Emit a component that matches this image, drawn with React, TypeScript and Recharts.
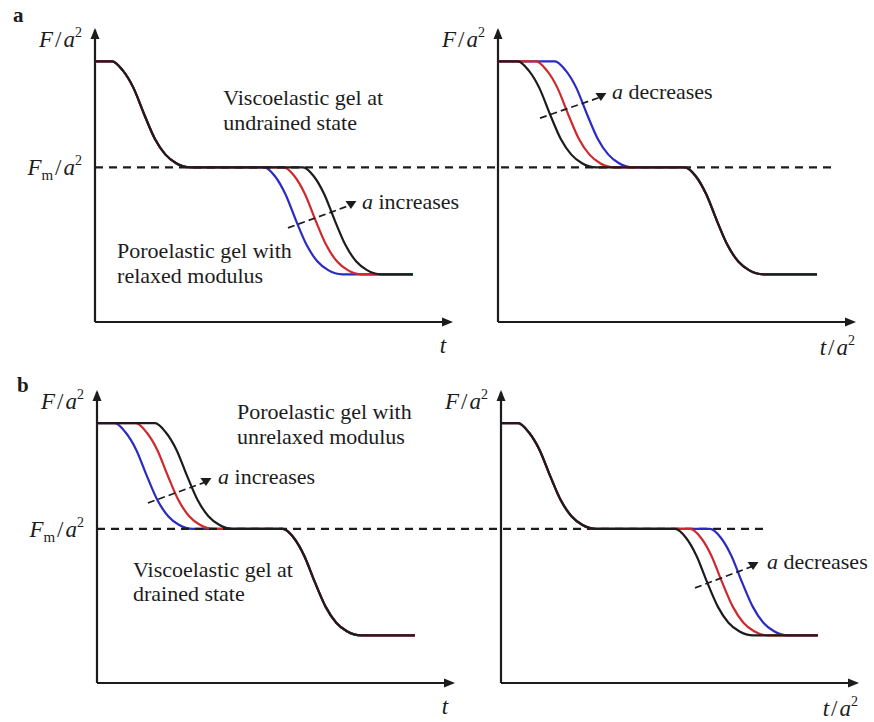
import React from "react";
import {
  LineChart,
  Line,
  XAxis,
  YAxis,
  ReferenceLine,
  ReferenceDot,
} from "recharts";

// F/a^2 along every curve: upper plateau, first step, Fm plateau, second step, lower plateau
const forceLevels = [
  1.0, 1.0, 0.965, 0.898, 0.797, 0.703, 0.642, 0.609, 0.593,
  0.593, 0.56, 0.49, 0.388, 0.294, 0.232, 0.199, 0.183, 0.183,
];
const fmLevel = 0.593;

// time (panel a, left: t)
const aLeftBlack = [0, 0.48, 0.78, 1.08, 1.38, 1.68, 1.98, 2.28, 2.68, 5.84, 6.14, 6.44, 6.74, 7.04, 7.34, 7.64, 8.04, 8.93];
const aLeftRed = [0, 0.48, 0.78, 1.08, 1.38, 1.68, 1.98, 2.28, 2.68, 5.3, 5.6, 5.9, 6.2, 6.5, 6.8, 7.1, 7.5, 8.93];
const aLeftBlue = [0, 0.48, 0.78, 1.08, 1.38, 1.68, 1.98, 2.28, 2.68, 4.75, 5.05, 5.35, 5.65, 5.95, 6.25, 6.55, 6.95, 8.93];

// panel a, right: t/a^2
const aRightBlack = [0, 0.56, 0.86, 1.16, 1.46, 1.76, 2.06, 2.36, 2.76, 5.25, 5.55, 5.85, 6.15, 6.45, 6.75, 7.05, 7.45, 8.96];
const aRightRed = [0, 1.07, 1.37, 1.67, 1.97, 2.27, 2.57, 2.87, 3.27, 5.25, 5.55, 5.85, 6.15, 6.45, 6.75, 7.05, 7.45, 8.96];
const aRightBlue = [0, 1.6, 1.9, 2.2, 2.5, 2.8, 3.1, 3.4, 3.8, 5.25, 5.55, 5.85, 6.15, 6.45, 6.75, 7.05, 7.45, 8.96];

// panel b, left: t
const bLeftBlue = [0, 0.5, 0.8, 1.1, 1.4, 1.7, 2.0, 2.3, 2.7, 5.22, 5.52, 5.82, 6.12, 6.42, 6.72, 7.02, 7.42, 8.93];
const bLeftRed = [0, 1.09, 1.39, 1.69, 1.99, 2.29, 2.59, 2.89, 3.29, 5.22, 5.52, 5.82, 6.12, 6.42, 6.72, 7.02, 7.42, 8.93];
const bLeftBlack = [0, 1.63, 1.93, 2.23, 2.53, 2.83, 3.13, 3.43, 3.83, 5.22, 5.52, 5.82, 6.12, 6.42, 6.72, 7.02, 7.42, 8.93];

// panel b, right: t/a^2
const bRightBlack = [0, 0.48, 0.78, 1.08, 1.38, 1.68, 1.98, 2.28, 2.68, 4.89, 5.19, 5.49, 5.79, 6.09, 6.39, 6.69, 7.09, 8.9];
const bRightRed = [0, 0.48, 0.78, 1.08, 1.38, 1.68, 1.98, 2.28, 2.68, 5.31, 5.61, 5.91, 6.21, 6.51, 6.81, 7.11, 7.51, 8.9];
const bRightBlue = [0, 0.48, 0.78, 1.08, 1.38, 1.68, 1.98, 2.28, 2.68, 5.87, 6.17, 6.47, 6.77, 7.07, 7.37, 7.67, 8.07, 8.9];

const T_MAX = 10;
const F_MAX = 1.12;
const PLOT_W = 356;
const ROW_W = 874;
const ROW_H = 361;

const SERIF = '"Liberation Serif", "Times New Roman", serif';
const INK = "#1c1c1c";
const BLUE = "#2a2ac4";
const RED = "#d0282c";

const toPoints = (times: number[]) => times.map((t, i) => ({ t, f: forceLevels[i] }));

const it = (s: string) => <tspan fontStyle="italic">{s}</tspan>;

const note = (lines: React.ReactNode[]) => (p: any) => (
  <text x={p.cx} y={p.cy} fontFamily={SERIF} fontSize={22} fill={INK}>
    {lines.map((l, i) => (
      <tspan key={i} x={p.cx} dy={i === 0 ? 0 : 24.5}>
        {l}
      </tspan>
    ))}
  </text>
);

const forceLabel = (sub: boolean) => (p: any) => (
  <text
    x={p.cx - 13}
    y={p.cy + (sub ? 8 : 17)}
    textAnchor="end"
    fontFamily={SERIF}
    fontSize={23}
    fill={INK}
  >
    {it("F")}
    {sub && (
      <tspan fontSize={15} dy={5}>
        m
      </tspan>
    )}
    <tspan dx={2} dy={sub ? -5 : 0}>/</tspan>
    <tspan dx={2} fontStyle="italic">a</tspan>
    <tspan fontSize={14} dy={-10}>2</tspan>
  </text>
);

const timeLabel = (scaled: boolean) => (p: any) =>
  scaled ? (
    <text x={p.cx + 1} y={p.cy + 33} textAnchor="end" fontFamily={SERIF} fontSize={23} fill={INK}>
      {it("t")}
      <tspan dx={2}>/</tspan>
      <tspan dx={2} fontStyle="italic">a</tspan>
      <tspan fontSize={14} dy={-10}>2</tspan>
    </text>
  ) : (
    <text x={p.cx - 8} y={p.cy + 31} textAnchor="middle" fontFamily={SERIF} fontSize={23} fill={INK}>
      {it("t")}
    </text>
  );

const panelLetter = (letter: string, dx: number, dy: number) => (p: any) => (
  <text x={p.cx + dx} y={p.cy + dy} fontFamily={SERIF} fontSize={21} fontWeight="bold" fill={INK}>
    {letter}
  </text>
);

const upHead = (p: any) => (
  <polygon
    points={`${p.cx},${p.cy - 2} ${p.cx - 4.5},${p.cy + 9} ${p.cx + 4.5},${p.cy + 9}`}
    fill={INK}
  />
);
const rightHead = (p: any) => (
  <polygon
    points={`${p.cx + 2},${p.cy} ${p.cx - 9},${p.cy - 4.5} ${p.cx - 9},${p.cy + 4.5}`}
    fill={INK}
  />
);
const downHead = (p: any) => (
  <polygon
    points={`${p.cx - 5.5},${p.cy - 4} ${p.cx + 5.5},${p.cy - 4} ${p.cx},${p.cy + 4}`}
    fill={INK}
  />
);

type Curve = { times: number[]; color: string };

const trendArrow = (key: string, x1: number, y1: number, x2: number, y2: number) => [
  <ReferenceLine
    key={key + "-line"}
    segment={[{ x: x1, y: y1 }, { x: x2, y: y2 }]}
    stroke={INK}
    strokeWidth={1.7}
    strokeDasharray="7 4"
    ifOverflow="visible"
  />,
  <ReferenceDot key={key + "-head"} x={x2} y={y2} r={0} shape={downHead} ifOverflow="visible" />,
];

const spot = (key: string, x: number, y: number, shape: (p: any) => React.ReactElement) => (
  <ReferenceDot key={key} x={x} y={y} r={0} shape={shape} ifOverflow="visible" />
);

const fmLine = (key: string, xEnd: number) => (
  <ReferenceLine
    key={key}
    segment={[{ x: 0, y: fmLevel }, { x: xEnd, y: fmLevel }]}
    stroke={INK}
    strokeWidth={2.2}
    strokeDasharray="8 6"
    ifOverflow="visible"
  />
);

function panel(
  key: string,
  top: number,
  left: number,
  marginTop: number,
  marginBottom: number,
  curves: Curve[],
  scaledTime: boolean,
  extras: React.ReactNode[]
) {
  return (
    <div key={key} style={{ position: "absolute", left: 0, top }}>
      <LineChart
        width={ROW_W}
        height={ROW_H}
        margin={{ top: marginTop, bottom: marginBottom, left, right: ROW_W - left - PLOT_W }}
      >
        <XAxis type="number" dataKey="t" domain={[0, T_MAX]} hide />
        <YAxis type="number" dataKey="f" domain={[0, F_MAX]} hide />
        <ReferenceLine
          segment={[{ x: 0, y: 0 }, { x: T_MAX, y: 0 }]}
          stroke={INK}
          strokeWidth={2.2}
          ifOverflow="visible"
        />
        <ReferenceLine
          segment={[{ x: 0, y: 0 }, { x: 0, y: F_MAX }]}
          stroke={INK}
          strokeWidth={2.2}
          ifOverflow="visible"
        />
        {spot(key + "-up", 0, F_MAX, upHead)}
        {spot(key + "-right", T_MAX, 0, rightHead)}
        {spot(key + "-flabel", 0, F_MAX, forceLabel(false))}
        {spot(key + "-tlabel", T_MAX, 0, timeLabel(scaledTime))}
        {curves.map((c, i) => (
          <Line
            key={i}
            data={toPoints(c.times)}
            dataKey="f"
            type="monotone"
            stroke={c.color}
            strokeWidth={2.2}
            dot={false}
            activeDot={false}
            isAnimationActive={false}
          />
        ))}
        {extras}
      </LineChart>
    </div>
  );
}

export default function App() {
  return (
    <div
      style={{
        position: "absolute",
        left: 0,
        top: 0,
        width: ROW_W,
        height: 722,
        background: "#fff",
        overflow: "hidden",
      }}
    >
      {panel(
        "aL",
        0,
        95,
        30,
        39,
        [
          { times: aLeftBlue, color: BLUE },
          { times: aLeftRed, color: RED },
          { times: aLeftBlack, color: INK },
        ],
        false,
        [
          fmLine("aL-fm", 20.84),
          spot("aL-fmlabel", 0, fmLevel, forceLabel(true)),
          spot("aL-letter", 0, F_MAX, panelLetter("a", -82, -8)),
          spot("aL-visco", 3.6, 0.832, note(["Viscoelastic gel at", "undrained state"])),
          spot("aL-poro", 0.62, 0.245, note(["Poroelastic gel with", "relaxed modulus"])),
          spot("aL-trend", 7.5, 0.433, note([<>{it("a")}{" increases"}</>])),
          ...trendArrow("aL-arrow", 5.42, 0.361, 7.19, 0.449),
        ]
      )}
      {panel(
        "aR",
        0,
        498,
        30,
        39,
        [
          { times: aRightBlue, color: BLUE },
          { times: aRightRed, color: RED },
          { times: aRightBlack, color: INK },
        ],
        true,
        [
          spot("aR-trend", 3.2, 0.855, note([<>{it("a")}{" decreases"}</>])),
          ...trendArrow("aR-arrow", 1.18, 0.782, 2.89, 0.863),
        ]
      )}
      {panel(
        "bL",
        361,
        97,
        31,
        39,
        [
          { times: bLeftBlue, color: BLUE },
          { times: bLeftRed, color: RED },
          { times: bLeftBlack, color: INK },
        ],
        false,
        [
          fmLine("bL-fm", 18.82),
          spot("bL-fmlabel", 0, fmLevel, forceLabel(true)),
          spot("bL-letter", 0, F_MAX, panelLetter("b", -80, 0)),
          spot("bL-poro", 3.93, 1.016, note(["Poroelastic gel with", "unrelaxed modulus"])),
          spot("bL-visco", 1.01, 0.408, note(["Viscoelastic gel at", "drained state"])),
          spot("bL-trend", 3.4, 0.766, note([<>{it("a")}{" increases"}</>])),
          ...trendArrow("bL-arrow", 1.43, 0.693, 3.06, 0.774),
        ]
      )}
      {panel(
        "bR",
        361,
        501,
        31,
        39,
        [
          { times: bRightBlue, color: BLUE },
          { times: bRightRed, color: RED },
          { times: bRightBlack, color: INK },
        ],
        true,
        [
          spot("bR-trend", 7.47, 0.439, note([<>{it("a")}{" decreases"}</>])),
          ...trendArrow("bR-arrow", 5.45, 0.366, 7.08, 0.45),
        ]
      )}
    </div>
  );
}
